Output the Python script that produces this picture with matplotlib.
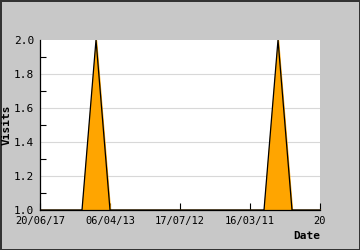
import numpy as np
import matplotlib
matplotlib.use('Agg')
import matplotlib.pyplot as plt
from matplotlib.ticker import MultipleLocator, FormatStrFormatter

# DATA
visits = [1, 1, 1, 1, 2, 1, 1, 1, 1, 1, 1, 1, 1, 1, 1, 1, 1, 2, 1, 1, 1]
tick_pos = [0, 5, 10, 15, 20]
tick_labels = ['20/06/17', '06/04/13', '17/07/12', '16/03/11', '20']

x = np.arange(len(visits))

plt.rcParams['font.family'] = ['DejaVu Sans Mono']

fig = plt.figure(figsize=(3.6, 2.5), dpi=100)
fig.patch.set_facecolor('#c8c8c8')
fig.patch.set_edgecolor('#333333')
fig.patch.set_linewidth(2)

ax = fig.add_axes([40/360, 40/250, 280/360, 170/250])
ax.set_facecolor('white')

# grid lines at major y
for v in [1.2, 1.4, 1.6, 1.8]:
    ax.axhline(v, color='#d8d8d8', linewidth=0.8, zorder=0)

ax.fill_between(x, 1.0, visits, color='#ffa500', zorder=2)
ax.plot(x, visits, color='black', linewidth=0.9, zorder=3)

ax.set_xlim(0, len(visits) - 1)
ax.set_ylim(1.0, 2.0)

ax.set_xticks(tick_pos)
ax.set_xticklabels(tick_labels, fontsize=7.5)
ax.yaxis.set_major_locator(MultipleLocator(0.2))
ax.yaxis.set_minor_locator(MultipleLocator(0.1))
ax.yaxis.set_major_formatter(FormatStrFormatter('%.1f'))
ax.tick_params(axis='y', labelsize=8)
ax.tick_params(axis='x', direction='in', length=5, width=0.8, pad=4)
ax.tick_params(axis='y', which='major', direction='in', length=0, pad=4)
ax.tick_params(axis='y', which='minor', direction='in', length=4, width=0.8)

for s in ['top', 'right']:
    ax.spines[s].set_visible(False)
ax.spines['left'].set_linewidth(0.9)
ax.spines['bottom'].set_linewidth(0.9)

ax.set_ylabel('Visits', fontsize=8, fontweight='bold', labelpad=2)
fig.text(320/360, 1 - 236/250, 'Date', fontsize=8, fontweight='bold',
         ha='right', va='center')

fig.savefig('out.png', dpi=100, facecolor=fig.get_facecolor(), edgecolor=fig.get_edgecolor())
